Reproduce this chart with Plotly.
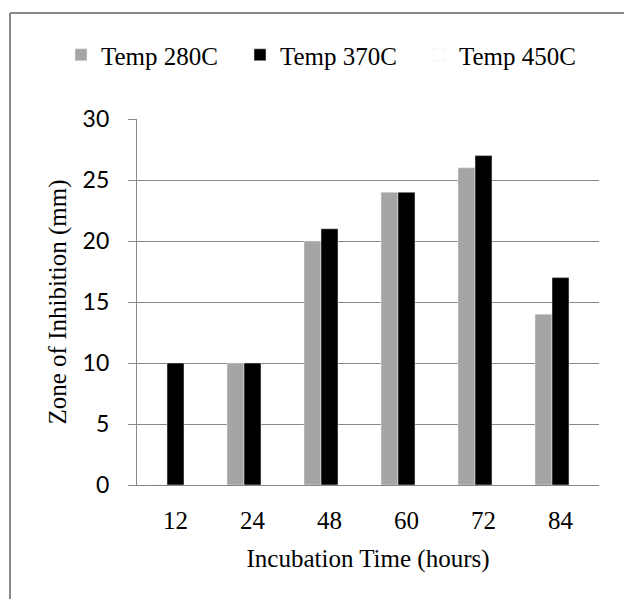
import plotly.graph_objects as go

categories = ["12", "24", "48", "60", "72", "84"]
temp_28 = [0, 10, 20, 24, 26, 14]
temp_37 = [10, 10, 21, 24, 27, 17]
temp_45 = [None, None, None, None, None, None]
series_names = ["Temp 280C", "Temp 370C", "Temp 450C"]
y_ticks = [0, 5, 10, 15, 20, 25, 30]

W, H = 624, 599
L, R, T, B = 137, 25, 119, 114
pw, ph = W - L - R, H - T - B

def px_x(p):
    return (p - L) / pw

def px_y(p):
    return (H - B - p) / ph

serif = "Liberation Serif"
sans = "Lato"
grid = "#878787"

fig = go.Figure()
fig.add_trace(go.Bar(x=categories, y=temp_28, name=series_names[0], marker_color="#a5a5a5"))
fig.add_trace(go.Bar(x=categories, y=temp_37, name=series_names[1], marker_color="#000000"))
fig.add_trace(go.Bar(x=categories, y=temp_45, name=series_names[2], marker_color="#ffffff"))

fig.update_layout(
    width=W, height=H,
    margin=dict(l=L, r=R, t=T, b=B, autoexpand=False),
    paper_bgcolor="white", plot_bgcolor="white",
    barmode="group", bargap=0.338, bargroupgap=0,
    showlegend=True,
    legend=dict(orientation="h", x=px_x(61), xanchor="left", y=px_y(55), yanchor="middle",
                font=dict(family=serif, size=25, color="black"),
                bgcolor="rgba(0,0,0,0)", entrywidth=134, entrywidthmode="pixels",
                traceorder="normal"),
    xaxis=dict(showgrid=False, showline=True, linecolor=grid, linewidth=1.3,
               ticks="", tickfont=dict(family=serif, size=25, color="black"),
               ticklabelstandoff=13,
               title=dict(text="Incubation Time (hours)", font=dict(family=serif, size=25, color="black"), standoff=16)),
    yaxis=dict(range=[0, 30], tickvals=y_ticks, showgrid=True, gridcolor=grid, gridwidth=1.3,
               showline=True, linecolor=grid, linewidth=1.3, ticks="outside", ticklen=8,
               tickcolor=grid, tickwidth=1.3, zeroline=False,
               tickfont=dict(family=sans, size=23, color="black"), ticklabelstandoff=14,
               title=dict(text="Zone of Inhibition (mm)", font=dict(family=serif, size=25, color="black"), standoff=8)),
    shapes=[
        dict(type="line", xref="paper", yref="paper", x0=px_x(10), x1=px_x(700), y0=px_y(13), y1=px_y(13),
             line=dict(color="#898989", width=2)),
        dict(type="line", xref="paper", yref="paper", x0=px_x(10), x1=px_x(10), y0=px_y(13), y1=px_y(700),
             line=dict(color="#898989", width=2)),
    ],
)

fig.write_html("out.html")
